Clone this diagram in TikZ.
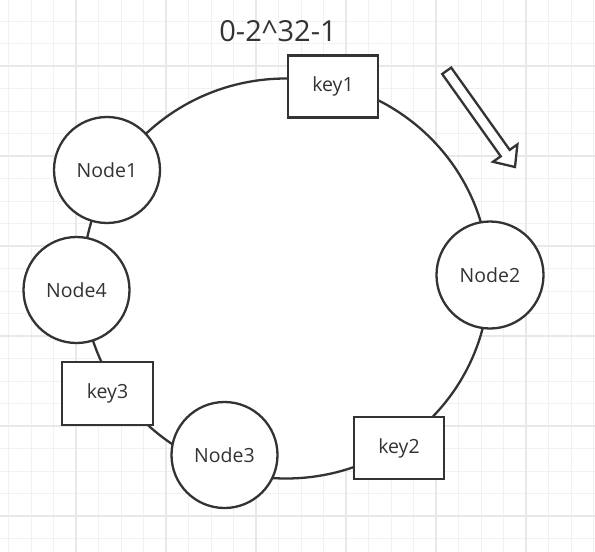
\documentclass[tikz,border=0pt]{standalone}
\usepackage{fontspec}
\setmainfont{Open Sans}
\usetikzlibrary{shapes.geometric}
\definecolor{ink}{HTML}{333333}
\definecolor{gridminor}{HTML}{F1F1F1}
\definecolor{gridmajor}{HTML}{E8E8E8}
\tikzset{
  stroke/.style={draw=ink, line width=2.3pt, fill=white},
  peer/.style={stroke, circle, minimum size=106pt, inner sep=0pt, font=\fontsize{19.5}{22}\selectfont, text=ink},
  keybox/.style={stroke, rectangle, minimum width=90pt, minimum height=62pt, inner sep=0pt, font=\fontsize{19.5}{22}\selectfont, text=ink},
  ringstyle/.style={stroke, ellipse, minimum width=406pt, minimum height=400pt, inner sep=0pt},
  minorline/.style={draw=gridminor, line width=1pt},
  majorline/.style={draw=gridmajor, line width=1.3pt},
}
\begin{document}
\begin{tikzpicture}[x=1pt,y=-1pt]
\useasboundingbox (0,0) rectangle (595,552);
\fill[white] (0,0) rectangle (595,552);
% grid
\foreach \k in {0,...,26} {
  \draw[minorline] ({8.5+22.5*\k},0) -- ({8.5+22.5*\k},552);
}
\foreach \k in {0,...,23} {
  \draw[minorline] (0,{21+22.5*\k}) -- (595,{21+22.5*\k});
}
\foreach \k in {0,...,5} {
  \draw[majorline] ({76+90*\k},0) -- ({76+90*\k},552);
  \draw[majorline] (0,{66+90*\k}) -- (595,{66+90*\k});
}
% ring
\node[ringstyle] (ring) at (286,278.5) {};
% title
\node[text=ink, font=\fontsize{29}{32}\selectfont] (title) at (278,31) {0-2\textasciicircum32-1};
% keys and nodes
\node[keybox] (key1) at (333,86.5) {key1};
\node[peer] (node1) at (107,170) {Node1};
\node[peer] (node4) at (76.5,290) {Node4};
\node[keybox, minimum width=91pt, minimum height=63pt] (key3) at (107.5,393.5) {key3};
\node[peer] (node3) at (224.5,455) {Node3};
\node[keybox] (key2) at (399,448) {key2};
\node[peer, minimum size=107pt] (node2) at (490,275) {Node2};
% direction arrow
\draw[draw=ink, line width=2.3pt, fill=white, line join=miter]
  (442.2,74.0) -- (451.2,67.6) -- (509.7,149.9) -- (517.4,144.4) -- (515,167)
  -- (493.0,161.8) -- (500.7,156.3) -- cycle;
\end{tikzpicture}
\end{document}
